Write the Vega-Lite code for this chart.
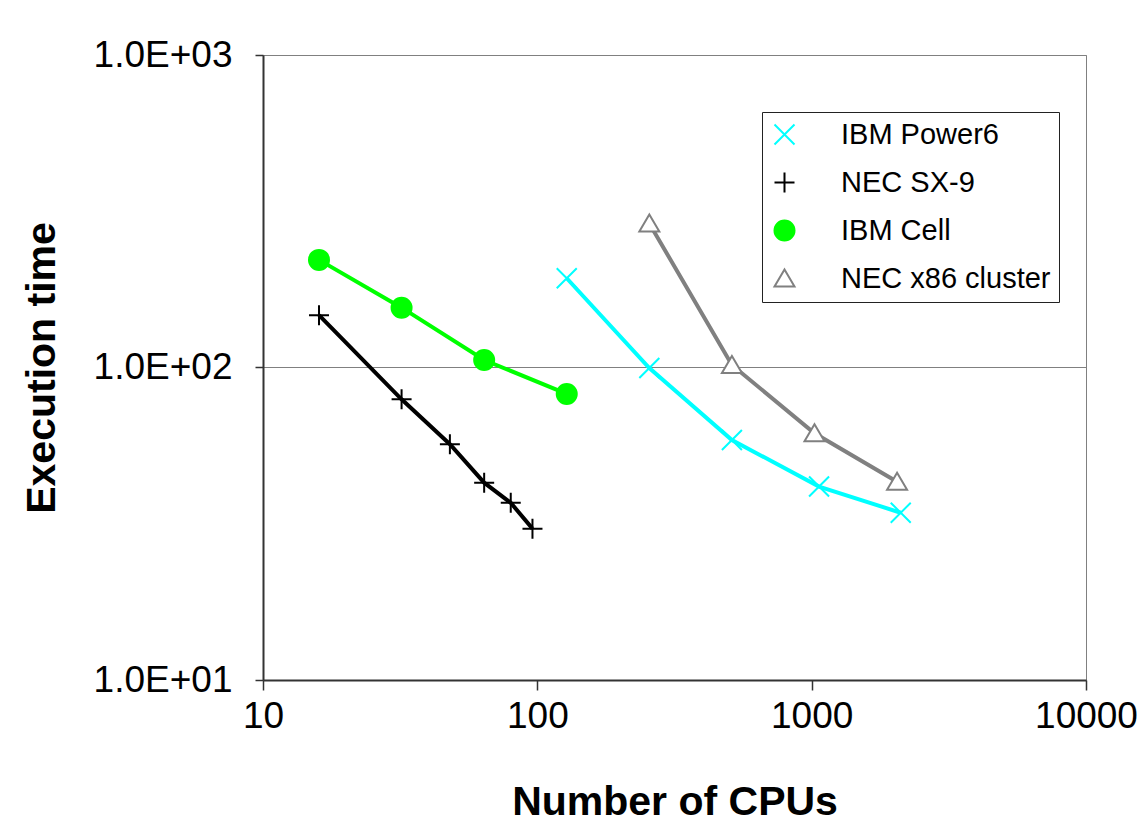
{
  "$schema": "https://vega.github.io/schema/vega-lite/v6.json",
  "width": 823,
  "height": 625,
  "autosize": {"type": "none"},
  "padding": {"left": 263, "top": 55, "right": 61, "bottom": 156},
  "background": "white",
  "config": {
    "font": "Liberation Sans",
    "view": {"stroke": "#808080", "strokeWidth": 1}
  },
  "data": {
    "values": [
      {"series": "IBM Power6", "cpus": 128, "time": 193},
      {"series": "IBM Power6", "cpus": 256, "time": 99.6},
      {"series": "IBM Power6", "cpus": 512, "time": 58.6},
      {"series": "IBM Power6", "cpus": 1064, "time": 41.6},
      {"series": "IBM Power6", "cpus": 2112, "time": 34.3},
      {"series": "NEC SX-9", "cpus": 16, "time": 147},
      {"series": "NEC SX-9", "cpus": 32, "time": 79.1},
      {"series": "NEC SX-9", "cpus": 48, "time": 56.8},
      {"series": "NEC SX-9", "cpus": 64, "time": 42.8},
      {"series": "NEC SX-9", "cpus": 80, "time": 36.9},
      {"series": "NEC SX-9", "cpus": 96, "time": 30.5},
      {"series": "IBM Cell", "cpus": 16, "time": 221},
      {"series": "IBM Cell", "cpus": 32, "time": 155.4},
      {"series": "IBM Cell", "cpus": 64, "time": 105.7},
      {"series": "IBM Cell", "cpus": 128, "time": 82.3},
      {"series": "NEC x86 cluster", "cpus": 256, "time": 289},
      {"series": "NEC x86 cluster", "cpus": 512, "time": 101.9},
      {"series": "NEC x86 cluster", "cpus": 1024, "time": 61.6},
      {"series": "NEC x86 cluster", "cpus": 2048, "time": 43.1}
    ]
  },
  "encoding": {
    "x": {
      "field": "cpus",
      "type": "quantitative",
      "scale": {"type": "log", "domain": [10, 10000], "nice": false},
      "axis": {
        "title": "Number of CPUs",
        "titleFontSize": 41,
        "titleFontWeight": "bold",
        "titleColor": "black",
        "titlePadding": 48,
        "values": [10, 100, 1000, 10000],
        "labelExpr": "format(datum.value, 'd')",
        "labelFontSize": 37,
        "labelColor": "black",
        "labelPadding": 8,
        "labelFlush": false,
        "labelOverlap": false,
        "tickSize": 10,
        "tickColor": "#333333",
        "tickWidth": 1.5,
        "domainColor": "#333333",
        "domainWidth": 2,
        "grid": false
      }
    },
    "y": {
      "field": "time",
      "type": "quantitative",
      "scale": {"type": "log", "domain": [10, 1000], "nice": false},
      "axis": {
        "title": "Execution time",
        "titleFontSize": 41,
        "titleFontWeight": "bold",
        "titleColor": "black",
        "titlePadding": 30,
        "values": [10, 100, 1000],
        "labelExpr": "'1.0E+0' + round(log(datum.value) / LN10)",
        "labelFontSize": 37,
        "labelColor": "black",
        "labelPadding": 23,
        "labelOverlap": false,
        "tickSize": 8,
        "tickColor": "#333333",
        "tickWidth": 1.5,
        "domainColor": "#333333",
        "domainWidth": 2,
        "grid": true,
        "gridColor": "#808080",
        "gridWidth": 1
      }
    }
  },
  "layer": [
    {
      "mark": {"type": "line", "strokeWidth": 4},
      "encoding": {
        "stroke": {
          "field": "series",
          "type": "nominal",
          "scale": {
            "domain": ["IBM Power6", "NEC SX-9", "IBM Cell", "NEC x86 cluster"],
            "range": ["#00FFFF", "#000000", "#00FF00", "#808080"]
          },
          "legend": {
            "title": null,
            "orient": "none",
            "legendX": 499,
            "legendY": 57,
            "padding": 8,
            "fillColor": "white",
            "strokeColor": "#222222",
            "labelFont": "Liberation Sans",
            "labelFontSize": 29,
            "labelColor": "black",
            "labelLimit": 400,
            "labelOffset": 42,
            "rowPadding": 18,
            "symbolType": "circle",
            "symbolSize": 400,
            "symbolStrokeWidth": 2,
            "symbolOpacity": 1
          }
        },
        "detail": {"field": "series", "type": "nominal"}
      }
    },
    {
      "mark": {"type": "point", "size": 400, "strokeWidth": 2, "opacity": 1},
      "encoding": {
        "shape": {
          "field": "series",
          "type": "nominal",
          "scale": {
            "domain": ["IBM Power6", "NEC SX-9", "IBM Cell", "NEC x86 cluster"],
            "range": ["M-1,-1L1,1M-1,1L1,-1", "M-1,0L1,0M0,-1L0,1", "circle", "M-1,0.8L1,0.8L0,-0.9Z"]
          },
          "legend": null
        },
        "fill": {
          "field": "series",
          "type": "nominal",
          "scale": {
            "domain": ["IBM Power6", "NEC SX-9", "IBM Cell", "NEC x86 cluster"],
            "range": ["transparent", "transparent", "#00FF00", "#FFFFFF"]
          },
          "legend": null
        },
        "stroke": {
          "field": "series",
          "type": "nominal"
        }
      }
    }
  ]
}
